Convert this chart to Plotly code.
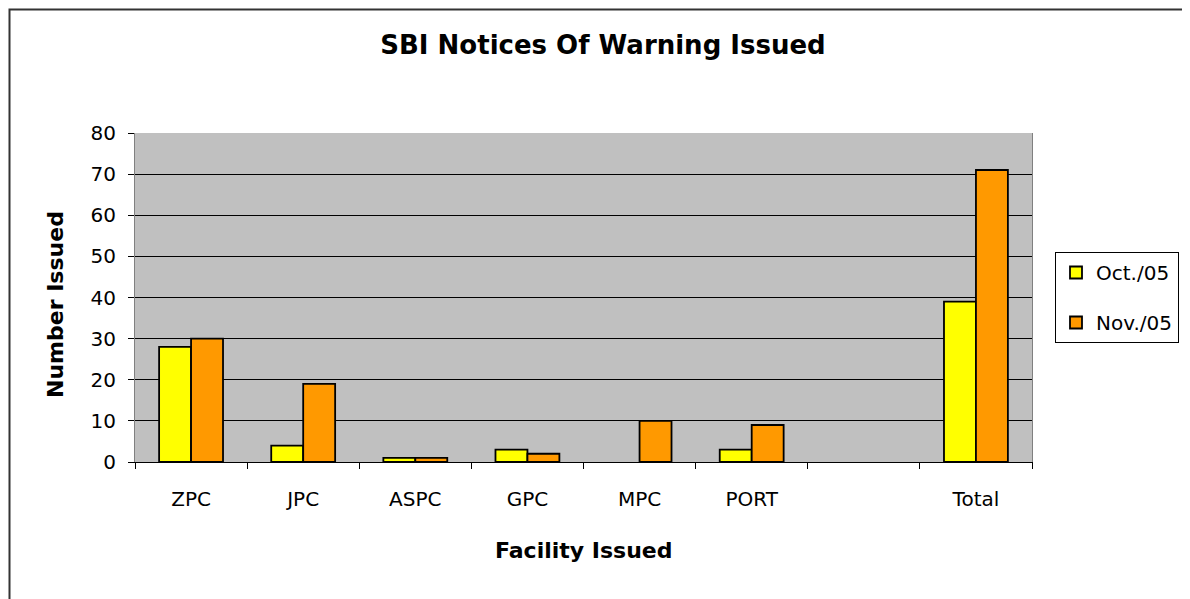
import plotly.graph_objects as go

categories = ["ZPC", "JPC", "ASPC", "GPC", "MPC", "PORT", " ", "Total"]
oct_05 = [28, 4, 1, 3, None, 3, None, 39]
nov_05 = [30, 19, 1, 2, 10, 9, None, 71]
y_ticks = [0, 10, 20, 30, 40, 50, 60, 70, 80]

W, H = 1190, 599
OFF = 8  # page body margin
L, R, T, B = 135, 1032, 133, 462  # target screen coords of plot area
pw, ph = R - L, B - T

def px_x(x):
    return (x - L) / pw

def px_y(y):
    return (B - y) / ph

FONT = "DejaVu Sans, Liberation Sans, Arial, sans-serif"

fig = go.Figure()
fig.add_trace(go.Bar(
    x=categories, y=oct_05, name="Oct./05", legendgroup="a",
    marker=dict(color="#FFFF00", line=dict(color="black", width=1.8)),
))
fig.add_trace(go.Bar(
    x=categories, y=nov_05, name="Nov./05", legendgroup="b",
    marker=dict(color="#FF9900", line=dict(color="black", width=1.8)),
))

fig.update_layout(
    width=W, height=H,
    margin=dict(l=L - OFF, r=W - R + OFF, t=T - OFF, b=H - B + OFF, pad=0),
    paper_bgcolor="white",
    plot_bgcolor="#C0C0C0",
    barmode="group", bargap=0.43, bargroupgap=0,
    font=dict(family=FONT, size=20, color="black"),
    title=dict(text="<b>SBI Notices Of Warning Issued</b>",
               x=(603 - OFF) / W, xanchor="center", xref="container",
               y=1 - (45 - OFF) / H, yanchor="middle", yref="container",
               font=dict(family=FONT, size=26, color="black")),
    legend=dict(x=px_x(1055), y=px_y(252), xanchor="left", yanchor="top",
                bgcolor="white", bordercolor="black", borderwidth=1,
                font=dict(family=FONT, size=20), traceorder="grouped",
                tracegroupgap=21, itemwidth=30),
    showlegend=True,
)

fig.update_xaxes(
    type="category", categoryorder="array", categoryarray=categories,
    tickson="boundaries", ticks="outside", ticklen=6, tickcolor="black",
    showline=True, linecolor="black", linewidth=1,
    showgrid=False, tickfont=dict(family=FONT, size=20),
    ticklabelstandoff=19,
)
fig.update_yaxes(
    range=[0, 80], tickvals=y_ticks, ticks="outside", ticklen=6,
    tickcolor="black", showline=True, linecolor="#808080", linewidth=1,
    mirror=True, showgrid=True, gridcolor="black", gridwidth=1,
    zeroline=False, tickfont=dict(family=FONT, size=20),
    ticklabelstandoff=8,
)

fig.add_annotation(text="<b>Facility Issued</b>", xref="paper", yref="paper",
                   x=px_x(583), y=px_y(550), showarrow=False,
                   xanchor="center", yanchor="middle",
                   font=dict(family=FONT, size=22))
fig.add_annotation(text="<b>Number Issued</b>", xref="paper", yref="paper",
                   x=px_x(55), y=px_y(305), showarrow=False, textangle=-90,
                   xanchor="center", yanchor="middle",
                   font=dict(family=FONT, size=22))

fig.add_shape(type="rect", xref="paper", yref="paper",
              x0=px_x(9.5), x1=px_x(1210), y0=px_y(620), y1=px_y(9.5),
              line=dict(color="#333333", width=2), fillcolor="rgba(0,0,0,0)",
              layer="below")

fig.write_html("out.html")
